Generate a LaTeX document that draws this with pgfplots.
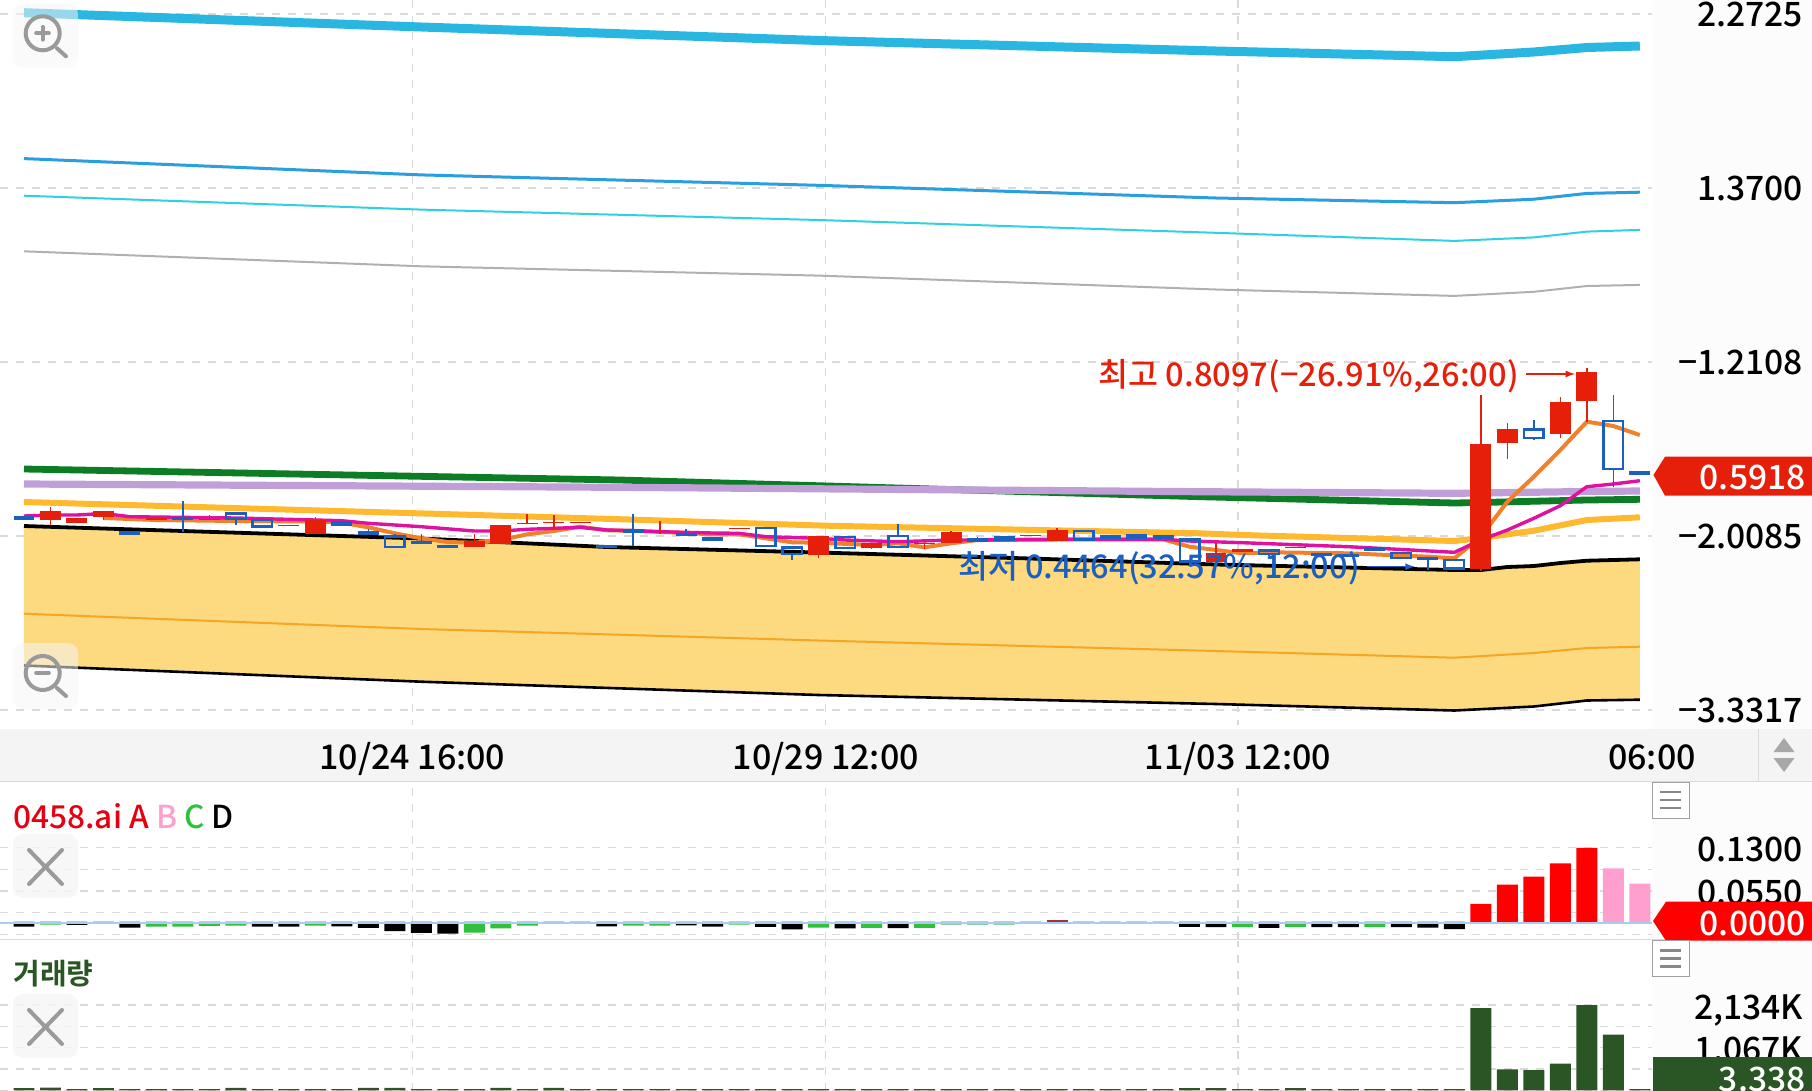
\documentclass[border=0pt]{standalone}
\usepackage{fontspec}
\usepackage{pgfplots}
\pgfplotsset{compat=1.18}
\setmainfont{Noto Sans CJK KR}[UprightFont=* Medium,BoldFont=* Bold]
\definecolor{cred}{HTML}{E61F0A}
\definecolor{cblue}{HTML}{1B5FC1}
\definecolor{gridc}{HTML}{DADADA}
\definecolor{bandc}{HTML}{F4F4F4}
\definecolor{sidec}{HTML}{FCFCFC}
\definecolor{volc}{HTML}{2A5524}
\definecolor{cbandf}{HTML}{FDD97F}
\definecolor{cbandl}{HTML}{F5A623}
\definecolor{ccyan}{HTML}{29B6E0}
\definecolor{cblue2}{HTML}{2A9FDF}
\definecolor{ccyan2}{HTML}{2FD0E0}
\definecolor{cgray}{HTML}{B0B0B0}
\definecolor{cgreen}{HTML}{0C7C25}
\definecolor{cpurple}{HTML}{C09FD9}
\definecolor{cyellow}{HTML}{FFB92E}
\definecolor{corange}{HTML}{F0802A}
\definecolor{cmag}{HTML}{E010A0}
\definecolor{cdash}{HTML}{5A6A78}
\definecolor{cind}{HTML}{2FC13C}
\definecolor{cfaint}{HTML}{8FCCA0}
\definecolor{cpink}{HTML}{FF9FCF}
\definecolor{cdred}{HTML}{A53040}
\definecolor{czero}{HTML}{A8CDF0}
\definecolor{cgtri}{HTML}{A8A8A8}
\definecolor{cgbox}{HTML}{A0A0A0}
\definecolor{cgline}{HTML}{888888}
\definecolor{ciconbg}{HTML}{F5F5F5}
\definecolor{cgx}{HTML}{9A9A9A}
\newcommand{\fs}[1]{\fontsize{#1}{#1}\selectfont}
% i top bot hi lo
\newcommand{\rc}[5]{%
 \addplot[cred,line width=.8pt,forget plot] coordinates {(#1,#4)(#1,#5)};
 \addplot[fill=cred,draw=none,forget plot] coordinates {(\fpeval{#1-.396},#2)(\fpeval{#1+.396},#2)(\fpeval{#1+.396},#3)(\fpeval{#1-.396},#3)} --cycle;}
\newcommand{\bc}[5]{%
 \addplot[cblue,line width=.8pt,forget plot] coordinates {(#1,#4)(#1,#5)};
 \addplot[fill=cblue,draw=none,forget plot] coordinates {(\fpeval{#1-.396},#2)(\fpeval{#1+.396},#2)(\fpeval{#1+.396},#3)(\fpeval{#1-.396},#3)} --cycle;}
\newcommand{\hc}[5]{%
 \addplot[cblue,line width=.8pt,forget plot] coordinates {(#1,#4)(#1,#2)};
 \addplot[cblue,line width=.8pt,forget plot] coordinates {(#1,#3)(#1,#5)};
 \addplot[draw=cblue,line width=1.2pt,fill=none,forget plot] coordinates {(\fpeval{#1-.37},#2)(\fpeval{#1+.37},#2)(\fpeval{#1+.37},#3)(\fpeval{#1-.37},#3)} --cycle;}
\pgfplotsset{panel/.style={scale only axis,width=826pt,xmin=-0.906,xmax=61.46,
  axis line style={draw=none},tick style={draw=none},major tick length=0pt,
  grid=major,major grid style={gridc,line width=.6pt,dash pattern=on 4pt off 4pt},
  xtick={14.66,30.27,45.83},ytick pos=right,
  yticklabel style={anchor=east,xshift=79pt,text height=12.4pt,text depth=0pt,inner ysep=0pt,font=\fs{16.8}},
  no markers}}
\begin{document}
\begin{tikzpicture}
\path[use as bounding box,clip] (0,0) rectangle (906pt,-545.5pt);
\begin{scope}[x=.5pt,y=-.5pt]
\fill[sidec] (1652,0) rectangle (1812,1091);
\fill[bandc] (0,729) rectangle (1812,781);
\end{scope}
% ---- main price panel (y = position on the pane)
\begin{axis}[panel,at={(0pt,0pt)},anchor=north west,height=362.5pt,y dir=reverse,ymin=0,ymax=725,
  ytick={14,188,362,536,710},
  yticklabels={2.2725,1.3700,−1.2108,−2.0085,−3.3317},
  xticklabels={10/24 16:00,10/29 12:00,11/03 12:00},
  extra x ticks={61.46},extra x tick labels={06:00},extra x tick style={grid=none},
  xticklabel style={anchor=center,yshift=-16pt,text height=12.4pt,text depth=0pt,inner ysep=0pt,font=\fs{17}},
  clip=false]
\addplot[fill=cbandf,draw=none,forget plot] coordinates {(0,526)(15,538.5)(22,547)(30,552.5)(38,558.5)(45,564.5)(54,570)(55,570)(56,567)(57,566)(58,563)(59,560.7)(60,560)(61,559.3)(61,699.7)(59,700.5)(57,706.5)(54,710.5)(45,704)(30,695)(15,681.7)(0,665.5)} --cycle;
\addplot[color=cbandl,line width=1pt] coordinates {(0,613.7)(15,629)(30,640.5)(45,651)(54,657.7)(57,653)(59,648)(61,646.7)};
\addplot[black,line width=1.3pt] coordinates {(0,665.5)(15,681.7)(30,695)(45,704)(54,710.5)(57,706.5)(59,700.5)(61,699.7)};
\addplot[black,line width=1.9pt] coordinates {(0,526)(15,538.5)(22,547)(30,552.5)(38,558.5)(45,564.5)(54,570)(55,570)(56,567)(57,566)(58,563)(59,560.7)(60,560)(61,559.3)};
\addplot[color=ccyan,line width=4.5pt] coordinates {(0,12.7)(15,27)(30,40.5)(45,51)(54,56.7)(57,52)(59,47.5)(61,46)};
\addplot[color=cblue2,line width=1.5pt] coordinates {(0,158.6)(15,174.9)(30,185.3)(45,198)(54,202.7)(57,199.2)(59,193.4)(61,192.2)};
\addplot[color=ccyan2,line width=1pt] coordinates {(0,195.7)(15,209.6)(30,220)(45,232.8)(54,240.9)(57,237.4)(59,231.6)(61,229.9)};
\addplot[color=cgray,line width=1pt] coordinates {(0,251.3)(15,266.3)(30,275.6)(45,289.5)(54,295.9)(57,291.8)(59,286)(61,284.9)};
\addplot[color=cgreen,line width=3.4pt] coordinates {(0,469)(22.5,480)(44.4,496.7)(54,503)(55,502.5)(59,500)(61,499.3)};
\addplot[color=cpurple,line width=3.6pt] coordinates {(0,484)(22.5,487.3)(44.4,491.7)(54,493.3)(59,491.5)(61,491)};
\addplot[color=cyellow,line width=3pt] coordinates {(0,502)(15.4,513.7)(22.6,519.3)(30.3,525.7)(44.4,533.3)(46,535)(54,541)(55,538)(57,530.7)(59,520)(61,517.3)};
\addplot[color=corange,line width=2pt] coordinates {(3,518)(5,520)(8,521)(11,521.5)(12,522.7)(13,527.3)(14,533.3)(15,538.3)(16,542)(17,542.7)(18,540)(19,534.3)(20,531)(21,526.7)(22,530.3)(23,530.7)(26,534.3)(27,534.3)(28,538.3)(29,542.3)(30,542.7)(32,545)(33,543.3)(34,547.3)(35,543.3)(36,540)(40,539.3)(43,539.3)(44,546.7)(45,550)(46,553.3)(47,552.3)(50,553.3)(53,556.7)(54,558.3)(55,536.7)(56,501.7)(57,476.7)(58,450)(59,421.7)(60,426)(61,435)};
\addplot[color=cmag,line width=1.7pt] coordinates {(0,516)(1,515)(2,515)(3,513.5)(4,516.7)(8,518)(11,520)(12,520.7)(13,523.3)(15,526.7)(17,531)(18,531)(19,529.3)(21,527.3)(22,530)(23,530.7)(24,531.7)(26,533)(27,533.3)(28,536.7)(30,538.3)(31,540)(33,541.7)(35,540)(36,540)(40,539.3)(43,539.3)(44,541)(46,542.7)(50,546.7)(54,552.3)(55,540)(56,530)(57,518.3)(58,505.7)(59,486.7)(60,484)(61,480.7)};
\bc{0}{516}{520}{516}{520}
\rc{1}{510.7}{520}{507.3}{525}
\rc{2}{517.7}{523.3}{517.7}{523.3}
\rc{3}{510.7}{517.3}{510.7}{520}
\bc{4}{531}{534.7}{531}{534.7}
\rc{5}{518}{519.5}{518}{519.5}
\bc{6}{517}{520.3}{501.3}{532.3}
\rc{7}{518.8}{520.2}{515.3}{520.2}
\hc{8}{513.3}{518.7}{513.3}{525.3}
\hc{9}{520}{526.3}{520}{526.3}
\rc{10}{525}{526.4}{525}{526.4}
\rc{11}{519.7}{533.7}{517.3}{533.7}
\bc{12}{521}{525.7}{521}{525.7}
\bc{13}{530.7}{535}{528.7}{535}
\hc{14}{536.3}{547}{534}{547}
\bc{15}{541}{544}{534.3}{544}
\bc{16}{544.7}{547.7}{544.7}{547.7}
\rc{17}{541}{547}{534}{547}
\rc{18}{524.7}{543.7}{524.7}{543.7}
\rc{19}{522.6}{524}{514}{524}
\rc{20}{522}{523.4}{515.3}{528.7}
\rc{21}{521.6}{523}{521.6}{523}
\bc{22}{545}{548.3}{545}{548.3}
\bc{23}{529}{533.3}{514}{545.7}
\rc{24}{531}{532.4}{520.7}{534}
\bc{25}{532.7}{536}{529.3}{536}
\bc{26}{536.7}{540.7}{536.7}{540.7}
\rc{27}{528}{529.4}{528}{529.4}
\hc{28}{527.7}{546}{527.7}{546}
\hc{29}{547.3}{553.7}{547.3}{560.3}
\rc{30}{536.3}{555}{536.3}{557.7}
\hc{31}{536.7}{548}{536.7}{548}
\rc{32}{543.3}{547.7}{543.3}{548.7}
\hc{33}{536}{546.7}{524.3}{546.7}
\rc{34}{542.6}{544}{541}{549}
\rc{35}{532}{542.7}{531}{542.7}
\bc{36}{538.3}{541.7}{536.7}{541.7}
\bc{37}{536.3}{540.7}{536.3}{540.7}
\rc{38}{534.6}{536}{534.6}{536}
\rc{39}{530}{540.7}{528}{540.7}
\hc{40}{531}{539.3}{531}{539.3}
\bc{41}{535}{539}{535}{539}
\bc{42}{534.3}{539}{534.3}{539}
\bc{43}{535.3}{539}{535.3}{539}
\hc{44}{539.3}{561.3}{539.3}{561.3}
\rc{45}{553.3}{561.7}{543.3}{561.7}
\rc{46}{549.3}{552}{549.3}{552}
\hc{47}{550.3}{554}{550.3}{556}
\rc{48}{546.6}{548}{546.6}{548}
\bc{49}{553.3}{556}{553.3}{556}
\bc{50}{554}{556.7}{554}{556.7}
\bc{51}{547.3}{551}{547.3}{551}
\hc{52}{552.7}{558}{552.7}{558}
\bc{53}{556.7}{560}{556.7}{570}
\hc{54}{560}{568.3}{560}{568.3}
\rc{55}{444}{569.3}{395}{570.7}
\rc{56}{429}{443.3}{423.3}{459.3}
\hc{57}{429.3}{437.7}{420}{440}
\rc{58}{401.7}{434.3}{397.3}{438.3}
\rc{59}{371.7}{401}{368.3}{421.7}
\hc{60}{421}{468.7}{395}{486.7}
\bc{61}{471.3}{475.3}{471.3}{475.3}
\node[anchor=west,text=cred,inner sep=0pt,font=\fs{16.3}] at (axis cs:40.55,376) {최고 0.8097(−26.91\%,26:00)};
\node[anchor=west,text=cblue,inner sep=0pt,font=\fs{16.3}] at (axis cs:35.25,568) {최저 0.4464(32.57\%,12:00)};
\draw[cred,line width=.6pt,-{latex}] (axis cs:56.7,374) -- (axis cs:58.55,374);
\draw[cblue,line width=.6pt,-{latex}] (axis cs:50.7,566.7) -- (axis cs:52.5,566.7);
\end{axis}
% ---- indicator panel
\begin{axis}[panel,at={(0pt,-391.5pt)},anchor=north west,height=78.5pt,ymin=-0.0302,ymax=0.2425,
  ytick={0.13,0.0925,0.055,0.0175,-0.02},
  yticklabels={0.1300,,0.0550,,},xticklabels={,,},
  yticklabel style={yshift=-.5pt},
  ybar,bar shift=0pt,bar width=0.79]
\addplot[fill=cdash,draw=none,forget plot] coordinates {(0,.0018)(1,.0018)(2,.0018)(3,.0018)(4,.0018)(5,.0018)(6,.0018)(7,.0018)(8,.0018)(9,.0018)(10,.0018)(11,.0018)(12,.0018)(13,.0018)(14,.0018)(15,.0018)(16,.0018)(17,.0018)(18,.0018)(19,.0018)(20,.0018)(21,.0018)(22,.0018)(23,.0018)(24,.0018)(25,.0018)(26,.0018)(27,.0018)(28,.0018)(29,.0018)(30,.0018)(31,.0018)(32,.0018)(33,.0018)(34,.0018)(35,.0018)(36,.0018)(37,.0018)(38,.0018)(40,.0018)(41,.0018)(42,.0018)(43,.0018)(44,.0018)(45,.0018)(46,.0018)(47,.0018)(48,.0018)(49,.0018)(50,.0018)(51,.0018)(52,.0018)(53,.0018)(54,.0018)};
\addplot[fill=black,draw=none,forget plot] coordinates {(0,-.007)(2,-.004)(4,-.0087)(9,-.007)(10,-.007)(12,-.0064)(13,-.0093)(14,-.015)(15,-.018)(16,-.019)(22,-.0064)(25,-.005)(26,-.007)(28,-.0075)(29,-.0116)(31,-.01)(33,-.0095)(44,-.0075)(45,-.008)(47,-.009)(49,-.008)(50,-.008)(52,-.008)(53,-.0085)(54,-.0115)};
\addplot[fill=cind,draw=none,forget plot] coordinates {(1,-.0035)(5,-.007)(6,-.007)(7,-.0058)(8,-.0052)(11,-.0052)(17,-.0175)(18,-.01)(19,-.0052)(23,-.0052)(24,-.0052)(27,-.0035)(30,-.0087)(32,-.009)(34,-.009)(46,-.008)(48,-.0075)(51,-.0075)};
\addplot[fill=cfaint,draw=none,forget plot] coordinates {(35,-.004)(36,-.004)(37,-.004)};
\addplot[fill=red,draw=none,forget plot] coordinates {(55,.0327)(56,.0659)(57,.08)(58,.103)(59,.13)};
\addplot[fill=cpink,draw=none,forget plot] coordinates {(60,.0944)(61,.0677)};
\addplot[fill=cdred,draw=none,forget plot] coordinates {(39,.004)};
\addplot[sharp plot,color=czero,line width=.9pt,forget plot] coordinates {(-0.906,0)(61.46,0)};
\end{axis}
% ---- volume panel
\begin{axis}[panel,at={(0pt,-470.5pt)},anchor=north west,height=75pt,ymin=-15,ymax=3735,
  ytick={2134,1600.5,1067,533.5,0},
  yticklabels={{2,134K},,{1,067K},,},xticklabels={,,},
  yticklabel style={yshift=-.8pt},
  ybar,bar shift=0pt,bar width=0.79]
\addplot[fill=volc,draw=none,forget plot] coordinates {(0,60)(1,70)(2,30)(3,60)(4,30)(5,30)(6,30)(7,30)(8,65)(9,30)(10,30)(11,30)(12,30)(13,65)(14,65)(15,30)(16,30)(17,30)(18,65)(19,30)(20,65)(21,30)(22,30)(23,30)(24,30)(25,30)(26,30)(27,30)(28,30)(29,30)(30,30)(31,30)(32,30)(33,30)(34,30)(35,30)(36,30)(37,30)(38,30)(39,30)(40,30)(41,30)(42,30)(43,30)(44,60)(45,60)(46,30)(47,30)(48,60)(49,30)(50,30)(51,30)(52,30)(53,30)(54,30)(55,2060)(56,527)(57,510)(58,668)(59,2134)(60,1393)(61,30)};
\end{axis}
\begin{scope}[x=.5pt,y=-.5pt]
\draw[gridc,line width=.8pt] (0,781.5) -- (1812,781.5);
\draw[gridc,line width=.8pt] (0,939.5) -- (1812,939.5);
\draw[gridc,line width=.6pt] (1758.5,729) -- (1758.5,781);
\fill[cgtri] (1784,738) -- (1794.5,752) -- (1773.5,752) -- cycle;
\fill[cgtri] (1784,772) -- (1794.5,758) -- (1773.5,758) -- cycle;
% price tags
\fill[cred] (1653.5,475) -- (1665,456.7) -- (1812,456.7) -- (1812,495.7) -- (1665,495.7) -- cycle;
\node[anchor=east,text=white,inner sep=0pt,text height=12.4pt,text depth=0pt,font=\fs{16.8}] at (1806,477) {0.5918};
\fill[red] (1653,921) -- (1666,901.7) -- (1812,901.7) -- (1812,940.7) -- (1666,940.7) -- cycle;
\node[anchor=east,text=white,inner sep=0pt,text height=12.4pt,text depth=0pt,font=\fs{16.8}] at (1806,923) {0.0000};
\fill[volc] (1653,1057) rectangle (1812,1095);
\node[anchor=east,text=white,inner sep=0pt,text height=12.4pt,text depth=0pt,font=\fs{16.8}] at (1806,1079) {3.338};
% titles
\node[anchor=west,inner sep=0pt,font=\fs{15.8}] at (13,816) {\textcolor[HTML]{E60012}{0458.ai A} \textcolor[HTML]{FF9FCF}{B} \textcolor[HTML]{2FC13C}{C} \textcolor{black}{D}};
\node[anchor=west,inner sep=0pt,font=\fs{14.5}\bfseries,text=volc] at (13,974) {거래량};
% buttons
\foreach \yy in {782,940.7}{
 \draw[cgbox,line width=.5pt,fill=white] (1652,\yy) rectangle (1689,\yy+36);
 \foreach \dd in {10,18,26} \draw[cgline,line width=1.3pt] (1660,\yy+\dd) -- (1681,\yy+\dd);
}
\foreach \yy in {834,994}{
 \fill[ciconbg,opacity=.8,rounded corners=5pt] (13,\yy) rectangle (78,\yy+64);
 \draw[cgx,line width=2pt,line cap=round] (29,\yy+16) -- (62,\yy+50) (62,\yy+16) -- (29,\yy+50);
}
\fill[ciconbg,opacity=.55,rounded corners=5pt] (13,4) rectangle (78,68);
\fill[ciconbg,opacity=.55,rounded corners=5pt] (13,643) rectangle (78,709);
\foreach \yy in {33.3,673}{
 \draw[cgx,line width=2pt] (42.7,\yy) circle (17);
 \draw[cgx,line width=2pt,line cap=round] (57,\yy+15) -- (66,\yy+23);
 \draw[cgx,line width=1.8pt,line cap=round] (36,\yy) -- (49,\yy);
}
\draw[cgx,line width=1.8pt,line cap=round] (42.7,26.8) -- (42.7,39.8);
\end{scope}
\end{tikzpicture}
\end{document}
